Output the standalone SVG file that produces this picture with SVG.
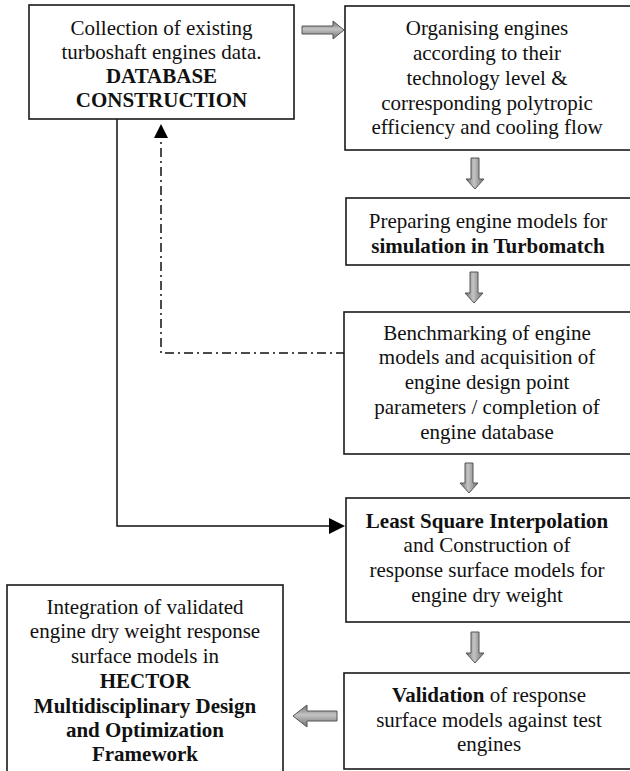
<svg xmlns="http://www.w3.org/2000/svg" width="630" height="771" viewBox="0 0 630 771">
  <defs>
    <linearGradient id="gv" x1="0" y1="0" x2="1" y2="0">
      <stop offset="0" stop-color="#6e6e6e"/>
      <stop offset="0.45" stop-color="#c4c4c4"/>
      <stop offset="1" stop-color="#6e6e6e"/>
    </linearGradient>
    <linearGradient id="gh" x1="0" y1="0" x2="0" y2="1">
      <stop offset="0" stop-color="#6e6e6e"/>
      <stop offset="0.45" stop-color="#c4c4c4"/>
      <stop offset="1" stop-color="#6e6e6e"/>
    </linearGradient>
  </defs>
  <style>
    .box { fill: #ffffff; stroke: #1a1a1a; stroke-width: 1.6; }
    text { font-family: "Liberation Serif", "Times New Roman", serif; font-size: 21px; fill: #111; text-anchor: middle; }
    .b { font-weight: bold; }
    .gv { fill: url(#gv); stroke: #555; stroke-width: 1; }
    .gh { fill: url(#gh); stroke: #555; stroke-width: 1; }
    .line { fill: none; stroke: #111; stroke-width: 1.5; }
    .dash { fill: none; stroke: #111; stroke-width: 1.5; stroke-dasharray: 9 4 2 4; }
    .head { fill: #000; }
  </style>

  <g id="connectors">
    <!-- solid line from box1 to box5 -->
    <path class="line" d="M117,119 V526 H331"/>
    <path class="head" d="M345,526 L329,518 L329,534 Z"/>
    <!-- dash-dot feedback from box4 to box1 -->
    <path class="dash" d="M345,353 H161 V137"/>
    <path class="head" d="M161,124 L154,138 L168,138 Z"/>
    <!-- gray block arrows -->
    <path class="gh" d="M302,26 H333 V21 L344,30 L333,39 V34 H302 Z"/>
    <path class="gv" d="M471,158 H479 V179 H484 L475,189 L466,179 H471 Z"/>
    <path class="gv" d="M470,272 H478 V293 H483 L474,303 L465,293 H470 Z"/>
    <path class="gv" d="M465,463 H473 V483 H478 L469,493 L460,483 H465 Z"/>
    <path class="gv" d="M471,632 H479 V653 H484 L475,663 L466,653 H471 Z"/>
    <path class="gh" d="M337,711 H307 V705 L293,716 L307,727 V721 H337 Z"/>
  </g>

  <g id="node-database">
    <rect class="box" x="29" y="5" width="265" height="114"/>
    <text x="161.5" y="35">Collection of existing</text>
    <text x="161.5" y="59">turboshaft engines data.</text>
    <text x="161.5" y="83" class="b">DATABASE</text>
    <text x="161.5" y="107" class="b">CONSTRUCTION</text>
  </g>

  <g id="node-organising">
    <rect class="box" x="345" y="6" width="300" height="144"/>
    <text x="487" y="35">Organising engines</text>
    <text x="487" y="60">according to their</text>
    <text x="487" y="85">technology level &amp;</text>
    <text x="487" y="110">corresponding polytropic</text>
    <text x="487" y="134">efficiency and cooling flow</text>
  </g>

  <g id="node-preparing">
    <rect class="box" x="346" y="198" width="300" height="67"/>
    <text x="488" y="228">Preparing engine models for</text>
    <text x="488" y="253" class="b">simulation in Turbomatch</text>
  </g>

  <g id="node-benchmarking">
    <rect class="box" x="344" y="312" width="300" height="142"/>
    <text x="487" y="340">Benchmarking of engine</text>
    <text x="487" y="364">models and acquisition of</text>
    <text x="487" y="389">engine design point</text>
    <text x="487" y="414">parameters / completion of</text>
    <text x="487" y="439">engine database</text>
  </g>

  <g id="node-interpolation">
    <rect class="box" x="346" y="498" width="300" height="124"/>
    <text x="487" y="528" class="b">Least Square Interpolation</text>
    <text x="487" y="552">and Construction of</text>
    <text x="487" y="577">response surface models for</text>
    <text x="487" y="602">engine dry weight</text>
  </g>

  <g id="node-validation">
    <rect class="box" x="344" y="673" width="300" height="96"/>
    <text x="489" y="702"><tspan class="b">Validation</tspan> of response</text>
    <text x="489" y="727">surface models against test</text>
    <text x="489" y="751">engines</text>
  </g>

  <g id="node-integration">
    <rect class="box" x="7" y="585" width="276" height="200"/>
    <text x="145" y="614">Integration of validated</text>
    <text x="145" y="638">engine dry weight response</text>
    <text x="145" y="663">surface models in</text>
    <text x="145" y="688" class="b">HECTOR</text>
    <text x="145" y="713" class="b">Multidisciplinary Design</text>
    <text x="145" y="737" class="b">and Optimization</text>
    <text x="145" y="761" class="b">Framework</text>
  </g>
</svg>
